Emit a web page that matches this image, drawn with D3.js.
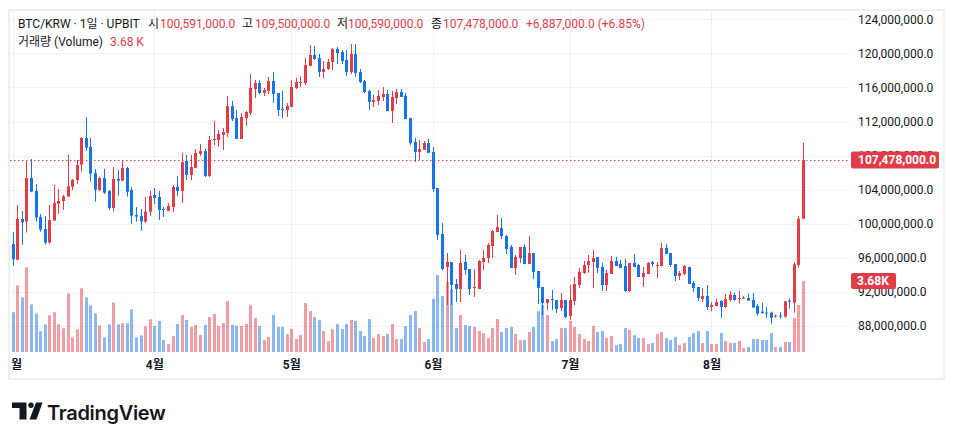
<!DOCTYPE html>
<html><head><meta charset="utf-8">
<script src="https://cdn.jsdelivr.net/npm/d3@7"></script>
<style>
html,body{margin:0;padding:0;background:#fff;}
svg{display:block;font-family:Roboto,"Noto Sans CJK KR",sans-serif;}
</style></head><body>
<svg id="chart" width="954" height="440"></svg>
<script>
// Daily candles, prices in millions of KRW, volume in thousands (K)
const startDate = "2024-03-01";
const openP = [97.63,95.79,100.56,100.25,105.37,103.85,100.80,99.39,97.79,100.37,102.36,102.67,103.18,104.36,105.14,106.94,110.07,109.01,105.96,103.97,105.37,103.85,101.85,105.26,105.06,106.55,103.97,101.03,100.91,100.25,
101.42,103.38,103.14,101.74,101.50,101.97,104.32,103.85,107.37,105.73,106.55,108.19,108.54,105.61,109.83,109.83,110.42,110.66,113.82,112.41,109.95,112.41,113.00,115.82,116.52,115.35,115.59,116.76,115.35,113.47,
113.35,113.71,115.94,116.52,116.52,118.52,119.81,119.46,117.81,118.17,118.99,120.51,120.16,119.22,117.81,119.93,117.81,116.76,115.59,114.29,114.41,114.88,115.23,113.24,114.76,115.47,115.00,112.41,109.60,108.42,
108.66,109.48,108.42,104.20,98.80,94.93,95.51,92.93,92.34,95.51,94.69,92.46,92.34,95.51,95.98,97.39,99.03,99.50,98.56,97.28,94.81,95.98,97.28,95.28,96.57,94.46,92.58,90.70,91.17,91.05,
90.11,91.05,89.18,90.94,92.81,94.22,95.16,95.51,96.10,94.93,92.81,94.11,95.63,95.28,95.04,92.11,95.40,95.16,93.75,94.11,95.51,95.04,95.04,97.16,96.57,95.28,93.87,94.11,94.93,93.05,
92.58,91.17,91.52,90.23,90.35,90.94,90.23,91.05,91.64,91.17,91.21,91.29,91.05,90.35,89.69,89.57,89.57,89.10,89.22,89.10,90.98,90.74,95.16,100.591];
const highP = [99.04,102.20,101.50,107.37,107.60,104.67,101.15,100.91,102.20,104.55,104.08,103.38,108.07,105.26,107.49,110.19,112.53,110.07,106.43,105.53,106.43,103.97,106.66,106.31,107.37,106.66,104.32,101.97,101.74,103.14,
103.89,104.20,103.85,101.97,102.44,104.55,105.61,108.31,108.07,108.07,108.78,109.36,108.78,110.30,112.06,111.01,111.24,115.00,114.41,113.35,113.00,113.24,117.58,116.88,116.88,115.94,117.23,117.81,115.35,115.59,
114.18,116.88,117.11,117.34,119.46,120.98,120.87,119.93,119.10,119.34,120.63,120.75,120.40,120.40,121.10,121.10,118.17,116.88,115.70,115.12,115.70,116.05,115.70,115.59,115.82,115.82,115.35,112.41,110.07,109.83,
109.72,109.95,109.01,104.20,100.09,96.57,95.51,93.52,96.92,96.34,94.69,94.69,95.75,96.92,97.74,99.27,101.03,100.68,98.68,97.51,96.34,97.28,97.63,98.56,96.57,94.46,92.58,91.17,92.23,91.05,
91.88,91.05,92.81,93.75,94.81,95.63,96.34,96.92,96.10,95.40,94.58,96.22,96.10,95.75,95.87,95.40,96.45,95.28,94.93,95.51,95.63,95.51,97.74,97.63,96.57,95.28,94.46,95.16,94.93,93.28,
92.58,92.46,92.81,90.82,91.17,91.05,91.76,92.11,91.92,92.11,91.53,91.80,91.88,90.59,90.74,90.23,89.69,89.33,89.65,90.90,91.21,95.48,100.91,109.50];
const lowP = [95.09,95.70,97.55,98.96,103.70,100.25,99.08,97.55,97.67,100.37,101.15,101.62,103.18,103.97,104.71,106.12,108.58,104.94,102.60,103.85,103.50,101.62,101.42,103.30,105.00,103.18,100.01,100.25,99.19,100.10,
100.95,102.32,100.45,100.80,101.50,101.38,103.26,102.44,105.14,105.14,106.55,107.96,105.49,105.49,109.25,109.01,108.66,110.19,112.06,109.95,109.95,111.48,112.77,114.76,115.23,115.00,115.23,114.18,112.65,112.41,
112.53,113.71,115.82,116.05,116.29,118.52,119.22,117.23,117.11,118.05,118.05,118.75,118.75,117.34,117.58,117.23,116.52,115.35,113.35,113.71,113.94,114.41,113.24,111.83,114.06,114.88,112.30,109.25,107.25,107.49,
108.66,108.31,103.73,98.10,94.55,90.47,90.47,90.82,90.82,93.99,91.64,91.41,92.34,94.58,95.40,95.98,99.03,98.21,96.45,94.81,93.99,95.40,95.28,95.28,93.52,90.58,89.29,89.88,89.88,89.53,
89.76,88.94,88.71,90.47,92.46,94.11,94.22,92.46,94.22,92.11,92.11,94.11,95.04,94.81,91.99,91.99,94.93,93.75,92.58,94.11,94.93,93.63,95.04,96.45,94.93,93.28,93.40,93.99,92.93,91.99,
90.94,90.82,89.88,89.76,90.35,88.94,90.11,90.86,90.98,90.62,91.21,90.98,90.16,89.22,89.45,88.98,88.28,88.98,88.86,88.98,90.04,89.57,94.85,100.59];
const closeP = [95.83,100.56,100.17,105.37,103.77,100.72,99.31,97.79,100.44,102.44,102.67,103.22,104.43,105.14,106.90,110.07,108.93,105.88,104.00,105.37,103.65,101.85,105.26,105.06,106.55,103.77,100.95,100.84,100.25,101.42,
103.26,103.03,101.62,101.62,102.09,104.32,103.85,107.25,105.73,106.66,108.31,108.54,105.61,109.83,109.95,110.54,110.77,113.82,112.30,109.95,112.53,113.12,115.94,116.52,115.35,115.70,116.76,115.23,113.35,113.35,
113.82,116.05,116.64,116.64,118.63,119.81,119.34,117.81,118.17,118.99,120.51,120.04,119.10,117.81,119.93,117.70,116.64,115.47,114.29,114.53,115.00,115.23,113.24,114.88,115.47,114.88,112.30,109.48,108.42,108.78,
109.48,108.31,104.08,98.69,94.69,95.51,92.81,92.34,95.40,94.58,92.34,92.58,95.63,95.98,97.51,99.15,99.62,98.56,97.04,94.81,96.10,97.28,95.28,96.57,94.34,92.46,90.70,91.17,91.05,89.99,
91.05,89.06,91.05,92.93,94.34,95.16,95.63,95.98,94.81,92.81,94.22,95.63,95.04,94.81,92.11,95.40,94.93,93.75,94.22,95.40,95.28,95.16,97.16,96.45,95.16,93.87,94.22,95.04,92.93,92.46,
91.29,91.52,90.23,90.47,90.82,90.23,91.17,91.68,91.05,91.29,91.33,90.98,90.16,89.45,89.53,89.45,88.98,89.22,89.10,90.90,90.90,95.24,100.591,107.478];
const volumeK = [2.06,3.45,2.83,4.39,2.47,2.00,1.07,1.43,1.90,2.06,1.43,1.23,3.04,0.76,1.17,3.30,2.83,2.42,2.00,1.38,0.76,1.43,2.57,1.43,1.49,1.49,2.21,0.76,0.86,1.33,
1.69,1.35,1.61,0.62,0.41,0.83,1.45,1.92,1.66,1.30,1.40,0.88,1.40,1.81,1.97,1.35,1.50,2.64,1.40,1.35,1.35,1.45,2.44,1.76,1.35,0.62,0.78,1.92,1.30,1.30,
0.93,1.19,0.67,0.88,2.54,2.12,1.81,1.66,1.09,0.57,1.19,1.45,1.19,1.45,1.66,1.61,1.09,0.83,1.71,0.73,0.93,0.83,0.93,1.45,0.67,0.67,1.35,1.92,2.12,1.24,
0.52,0.67,2.75,3.99,2.90,3.63,3.26,1.24,1.92,1.40,1.35,1.30,1.09,0.98,0.73,1.24,1.71,1.04,1.24,1.30,0.93,0.62,0.62,1.04,1.30,2.12,2.44,1.92,0.57,0.67,
1.24,1.24,1.61,1.30,0.93,0.67,0.57,1.35,1.04,1.09,0.73,0.83,0.36,0.41,1.24,1.14,0.88,0.73,0.73,0.41,0.47,0.93,1.04,0.73,0.62,0.78,0.36,0.47,0.78,0.98,
1.09,0.47,1.09,0.41,0.41,0.98,0.57,0.47,0.47,0.57,0.21,0.26,0.67,0.67,0.62,0.62,0.98,0.26,0.26,0.52,0.52,1.76,2.44,3.68];
const priceTicks = [88,92,96,100,104,108,112,116,120,124];
const headerLabels = ["시","고","저","종"];
const headerValues = ["100,591,000.0","109,500,000.0","100,590,000.0","107,478,000.0"];
const changeText = "+6,887,000.0 (+6.85%)";
const symbolText = "BTC/KRW · 1일 · UPBIT";
const volumeLegend = "3.68 K";
const lastPriceText = "107,478,000.0";
const lastVolText = "3.68K";

const UP = "#e13c48", DOWN = "#1872e8", TXT = "#131722", GRID = "#f0f1f3";
const svg = d3.select("#chart");
const plot = {l:10, r:850, t:11, b:352};

const start = new Date(startDate + "T00:00:00Z");
const dates = openP.map((_, i) => d3.utcDay.offset(start, i));
const data = dates.map((d, i) => ({d, o:openP[i], h:highP[i], l:lowP[i], c:closeP[i], v:volumeK[i]}));

const x = d3.scaleUtc().domain([dates[0], dates[dates.length-1]]).range([12.7, 802.8]);
const y = d3.scaleLinear().domain([88, 124]).range([326, 19.3]);
const yVol = d3.scaleLinear().domain([0, 3.68]).range([plot.b, 281]);

const defs = svg.append("defs");
defs.append("clipPath").attr("id","clipPlot")
  .append("rect").attr("x",plot.l).attr("y",plot.t).attr("width",plot.r-plot.l).attr("height",plot.b-plot.t);
defs.append("clipPath").attr("id","clipTime")
  .append("rect").attr("x",11.5).attr("y",plot.b).attr("width",plot.r-11.5).attr("height",26);

// grid
const monthTicks = x.ticks(d3.utcMonth.every(1));
const grid = svg.append("g");
grid.selectAll("line.h").data(priceTicks).join("line")
  .attr("x1",plot.l).attr("x2",plot.r)
  .attr("y1",d=>Math.round(y(d))+0.5).attr("y2",d=>Math.round(y(d))+0.5)
  .attr("stroke",GRID).attr("stroke-width",1);
grid.selectAll("line.v").data(monthTicks).join("line")
  .attr("x1",d=>Math.round(x(d))+0.5).attr("x2",d=>Math.round(x(d))+0.5)
  .attr("y1",plot.t).attr("y2",plot.b)
  .attr("stroke",GRID).attr("stroke-width",1);

// border
svg.append("rect").attr("x",9).attr("y",10).attr("width",935).attr("height",369)
  .attr("fill","none").attr("stroke","#eef0f3").attr("stroke-width",2);

const pg = svg.append("g").attr("clip-path","url(#clipPlot)");
const col = d => d.c >= d.o ? UP : DOWN;
const bw = 3;
// volume
pg.append("g").selectAll("rect").data(data).join("rect")
  .attr("x", d => Math.round(x(d.d)) - 1)
  .attr("width", bw)
  .attr("y", d => yVol(d.v))
  .attr("height", d => plot.b - yVol(d.v))
  .attr("fill", col).attr("fill-opacity", 0.5);
// wicks
pg.append("g").selectAll("line").data(data).join("line")
  .attr("x1", d => Math.round(x(d.d)) + 0.5).attr("x2", d => Math.round(x(d.d)) + 0.5)
  .attr("y1", d => y(d.h)).attr("y2", d => y(d.l))
  .attr("stroke", col).attr("stroke-width", 1);
// bodies
pg.append("g").selectAll("rect").data(data).join("rect")
  .attr("x", d => Math.round(x(d.d)) - 1)
  .attr("width", bw)
  .attr("y", d => y(Math.max(d.o, d.c)))
  .attr("height", d => Math.max(1, Math.abs(y(d.o) - y(d.c))))
  .attr("fill", col);

// last price line
const last = data[data.length-1];
svg.append("line").attr("x1",plot.l).attr("x2",plot.r)
  .attr("y1",Math.round(y(last.c))+0.5).attr("y2",Math.round(y(last.c))+0.5)
  .attr("stroke",UP).attr("stroke-width",1).attr("stroke-dasharray","1.5 2.5");

// price axis
const yAxis = d3.axisRight(y).tickValues(priceTicks)
  .tickFormat(d => d3.format(",.1f")(d*1e6)).tickSize(0).tickPadding(0);
const ya = svg.append("g").attr("transform","translate(858,0)").call(yAxis);
ya.select(".domain").remove();
ya.selectAll("text").attr("font-size",12).attr("fill",TXT).attr("font-family",'Roboto,"Noto Sans CJK KR",sans-serif');

// time axis (clipped at the pane's left edge)
const xAxis = d3.axisBottom(x).tickValues(monthTicks)
  .tickFormat(d => (d.getUTCMonth()+1) + "월").tickSize(0).tickPadding(0);
const xaWrap = svg.append("g").attr("clip-path","url(#clipTime)");
const xa = xaWrap.append("g").attr("transform","translate(0,360)").call(xAxis);
xa.select(".domain").remove();
xa.selectAll("text").attr("font-size",12).attr("font-weight",700).attr("fill",TXT).attr("dy","0.71em")
  .attr("font-family",'Roboto,"Noto Sans CJK KR",sans-serif');

// last price labels
const lp = svg.append("g");
lp.append("rect").attr("x",851).attr("y",y(last.c)-8.5).attr("width",88).attr("height",17).attr("rx",2).attr("fill",UP);
lp.append("text").attr("x",858).attr("y",y(last.c)).attr("dy","0.35em").attr("font-size",12).attr("font-weight",700)
  .attr("fill","#fff").text(lastPriceText);
lp.append("rect").attr("x",851).attr("y",yVol(last.v)-8).attr("width",45).attr("height",16).attr("rx",2).attr("fill",UP);
lp.append("text").attr("x",857).attr("y",yVol(last.v)).attr("dy","0.35em").attr("font-size",12).attr("font-weight",700)
  .attr("fill","#fff").text(lastVolText);

// legend
const lg = svg.append("g").attr("font-size",12);
lg.append("text").attr("x",18).attr("y",28).attr("fill",TXT).text(symbolText);
const labX = [148,242,337,431], valX = [160,255,348,443];
headerLabels.forEach((t,i) => {
  lg.append("text").attr("x",labX[i]).attr("y",28).attr("fill",TXT).text(t);
  lg.append("text").attr("x",valX[i]).attr("y",28).attr("fill",UP).text(headerValues[i]);
});
lg.append("text").attr("x",526).attr("y",28).attr("fill",UP).text(changeText);
lg.append("text").attr("x",18).attr("y",46).attr("fill",TXT).text("거래량 (Volume)");
lg.append("text").attr("x",110).attr("y",46).attr("fill",UP).text(volumeLegend);

// TradingView logo
const logo = svg.append("g").attr("fill",TXT);
logo.append("path").attr("d","M12,402.5H26.5V419.5H19.5V408H12Z");
logo.append("circle").attr("cx",31).attr("cy",405.3).attr("r",2.7);
logo.append("path").attr("d","M36,402.5H42.5L36.5,419.5H29.5Z");
logo.append("text").attr("x",47).attr("y",420).attr("font-family","Inter,Roboto,sans-serif")
  .attr("font-size",20).attr("font-weight",600).attr("letter-spacing",-0.3).text("TradingView");
</script>
</body></html>
